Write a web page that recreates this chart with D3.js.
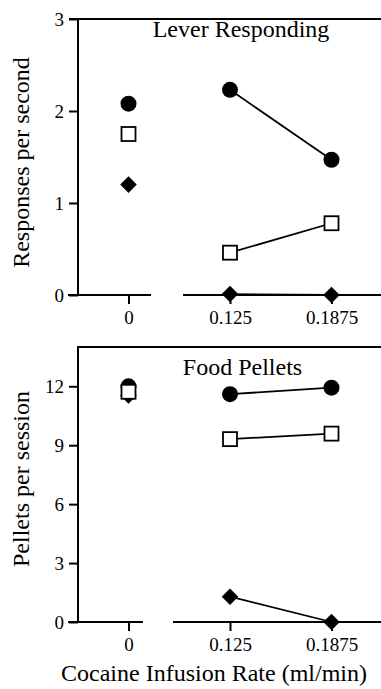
<!DOCTYPE html>
<html><head><meta charset="utf-8">
<script src="https://cdn.jsdelivr.net/npm/d3@7"></script>
<style>body{margin:0;background:#fff} svg{display:block}</style>
</head><body><svg id="c" width="381" height="689"></svg>
<script>
// ---- data ----
const categories = ["0", "0.125", "0.1875"];
const leverCircle  = [2.08, 2.23, 1.47];
const leverSquare  = [1.75, 0.46, 0.78];
const leverDiamond = [1.20, 0.01, 0.00];
const pelletCircle  = [12.0, 11.6, 11.93];
const pelletSquare  = [11.72, 9.31, 9.59];
const pelletDiamond = [11.53, 1.29, 0.00];
const leverTicks  = [0, 1, 2, 3];
const pelletTicks = [0, 3, 6, 9, 12];
const panelTitles = ["Lever Responding", "Food Pellets"];
const yTitles = ["Responses per second", "Pellets per session"];
const xTitle = "Cocaine Infusion Rate (ml/min)";

const svg = d3.select("#c");
const font = "'Liberation Serif', 'Times New Roman', serif";
const axisX = 78, rightX = 381;

const x = d3.scalePoint().domain(categories).range([128.5, 331.5]);

const panels = [
  {top: 19, bottom: 295, domain: [0, 3], ticks: leverTicks, title: panelTitles[0], titleX: 241, titleY: 37,
   ytitle: yTitles[0], ytitleY: 162.5, brk: [151, 183], borderStart: 69,
   series: [{v: leverDiamond, s: "diamond"}, {v: leverCircle, s: "circle"}, {v: leverSquare, s: "square"}]},
  {top: 347, bottom: 622, domain: [0, 14], ticks: pelletTicks, title: panelTitles[1], titleX: 242.5, titleY: 375,
   ytitle: yTitles[1], ytitleY: 479, brk: [143, 173], borderStart: 77,
   series: [{v: pelletDiamond, s: "diamond"}, {v: pelletCircle, s: "circle"}, {v: pelletSquare, s: "square"}]}
];

panels.forEach(p => {
  const y = d3.scaleLinear().domain(p.domain).range([p.bottom, p.top]);
  const g = svg.append("g");

  // top border
  g.append("line").attr("x1", p.borderStart).attr("x2", rightX)
    .attr("y1", p.top).attr("y2", p.top).attr("stroke", "#000").attr("stroke-width", 2);

  // y axis
  const ya = d3.axisLeft(y).tickValues(p.ticks).tickSize(9).tickSizeOuter(0).tickPadding(5).tickFormat(d3.format("d"));
  const yg = g.append("g").attr("transform", `translate(${axisX},0)`).call(ya)
    .attr("font-family", font).attr("font-size", 19);
  yg.select(".domain").attr("stroke-width", 2).attr("d", `M0,${p.top}V${p.bottom + 1}`);
  yg.selectAll(".tick line").attr("stroke-width", 2);
  yg.selectAll("text").attr("fill", "#000");

  // broken x axis
  g.append("line").attr("x1", 68).attr("x2", p.brk[0]).attr("y1", p.bottom).attr("y2", p.bottom)
    .attr("stroke", "#000").attr("stroke-width", 2);
  g.append("line").attr("x1", p.brk[1]).attr("x2", rightX).attr("y1", p.bottom).attr("y2", p.bottom)
    .attr("stroke", "#000").attr("stroke-width", 2);
  const xa = d3.axisBottom(x).tickSize(9).tickPadding(7).tickSizeOuter(0);
  const xg = g.append("g").attr("transform", `translate(0,${p.bottom})`).call(xa)
    .attr("font-family", font).attr("font-size", 19);
  xg.select(".domain").remove();
  xg.selectAll(".tick line").attr("stroke-width", 2);
  xg.selectAll("text").attr("fill", "#000");

  // titles
  g.append("text").attr("x", p.titleX).attr("y", p.titleY).attr("text-anchor", "middle")
    .attr("font-family", font).attr("font-size", 24).text(p.title);
  g.append("text").attr("transform", `translate(29,${p.ytitleY}) rotate(-90)`).attr("text-anchor", "middle")
    .attr("font-family", font).attr("font-size", 24).text(p.ytitle);

  // lines (only between nonzero infusion rates)
  const line = d3.line().x(d => x(d.c)).y(d => y(d.v));
  p.series.forEach(s => {
    const pts = categories.map((c, i) => ({c, v: s.v[i]})).slice(1);
    g.append("path").attr("d", line(pts)).attr("fill", "none").attr("stroke", "#000").attr("stroke-width", 1.8);
  });

  // markers
  p.series.forEach(s => {
    categories.forEach((c, i) => {
      const cx = x(c), cy = y(s.v[i]);
      if (s.s === "circle") {
        g.append("circle").attr("cx", cx).attr("cy", cy).attr("r", 8).attr("fill", "#000");
      } else if (s.s === "square") {
        g.append("rect").attr("x", cx - 7).attr("y", cy - 7).attr("width", 14).attr("height", 14)
          .attr("fill", "#fff").attr("stroke", "#000").attr("stroke-width", 1.8);
      } else {
        g.append("path").attr("d", d3.symbol().type(d3.symbolDiamond2).size(175)())
          .attr("transform", `translate(${cx},${cy})`).attr("fill", "#000");
      }
    });
  });
});

svg.append("text").attr("x", 214).attr("y", 681).attr("text-anchor", "middle")
  .attr("font-family", font).attr("font-size", 24).text(xTitle);
</script></body></html>
